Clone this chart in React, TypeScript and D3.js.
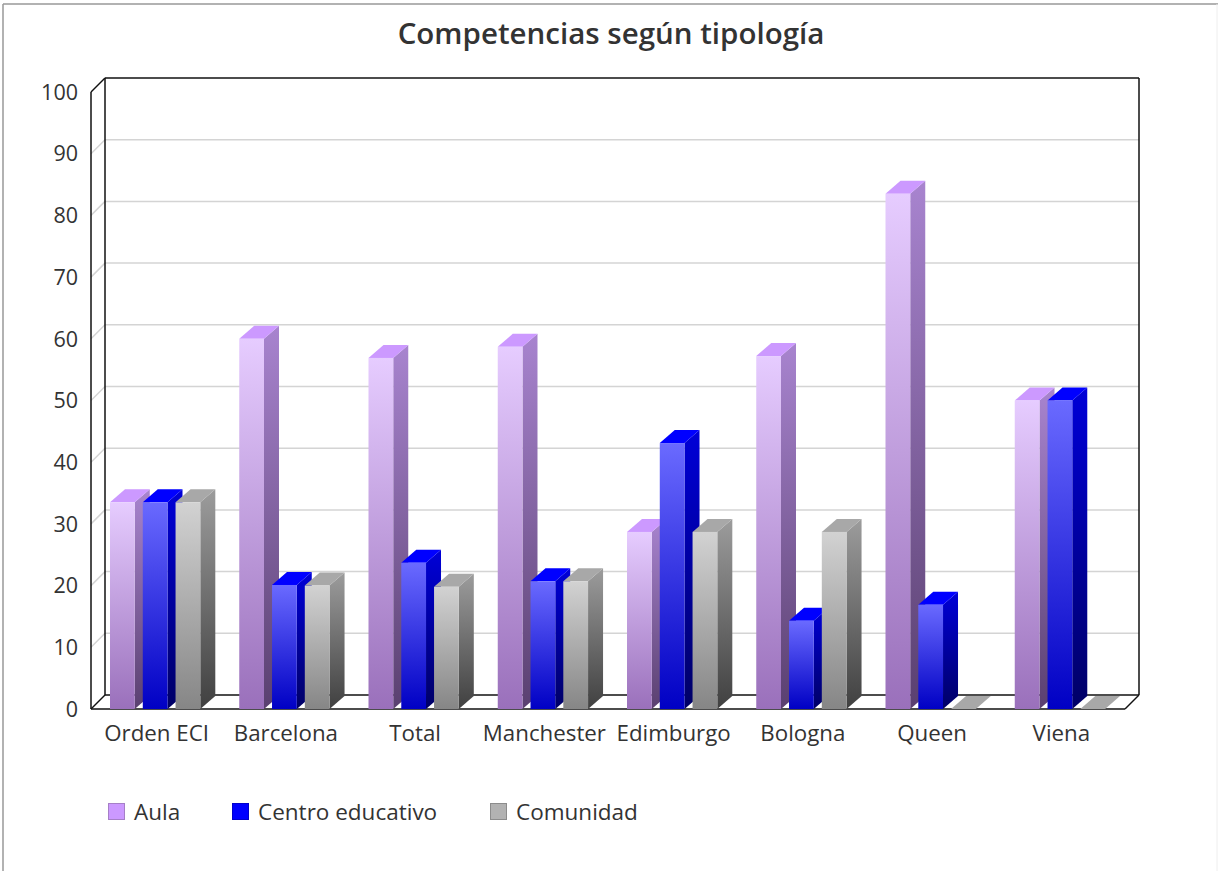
import * as d3 from "d3";
import React from "react";

const categories = ["Orden ECI", "Barcelona", "Total", "Manchester", "Edimburgo", "Bologna", "Queen", "Viena"];
const aula = [33.5, 60, 56.9, 58.7, 28.7, 57.2, 83.5, 50];
const centro = [33.5, 20.1, 23.7, 20.7, 43.1, 14.3, 16.9, 50];
const comunidad = [33.5, 20, 19.8, 20.7, 28.7, 28.7, 0, 0];
const yTicks = [0, 10, 20, 30, 40, 50, 60, 70, 80, 90, 100];
const seriesNames = ["Aula", "Centro educativo", "Comunidad"];
const seriesValues = [aula, centro, comunidad];

// colours per series: front top/bottom, side top/bottom, top face, legend fill/border
const palette = [
  { id: "a", f0: "#e6ccff", f1: "#9a70bb", s0: "#a884cf", s1: "#5a4070", t: "#cc99ff", l: "#cc99ff", b: "#a67fc7" },
  { id: "c", f0: "#6a6aff", f1: "#0000c4", s0: "#0000d8", s1: "#000066", t: "#0000ff", l: "#0000ff", b: "#0000cc" },
  { id: "g", f0: "#d2d2d2", f1: "#868686", s0: "#9c9c9c", s1: "#404040", t: "#a8a8a8", l: "#b2b2b2", b: "#8c8c8c" },
];

const width = 1218;
const height = 871;
const left = 91;
const right = 1125;
const top = 92;
const bottom = 709;
const dx = 14;
const dy = 14;
const barDx = 15;
const barDy = 13;

const fontFamily = "'Open Sans', sans-serif";
const textColor = "#333333";

export default function App() {
  const x0 = d3.scaleBand<string>().domain(categories).range([left, right]);
  const x1 = d3
    .scaleBand<number>()
    .domain([0, 1, 2])
    .range([19, 19 + 90.3])
    .paddingInner(0.245);
  const y = d3.scaleLinear().domain([0, 100]).range([bottom, top]);
  const bw = x1.bandwidth();

  return (
    <svg
      width={width}
      height={height}
      style={{ position: "absolute", left: 0, top: 0, background: "#fff" }}
    >
      <defs>
        {palette.map((p) => (
          <React.Fragment key={p.id}>
            <linearGradient id={p.id + "-front"} x1="0" y1="0" x2="0" y2="1">
              <stop offset="0" stopColor={p.f0} />
              <stop offset="1" stopColor={p.f1} />
            </linearGradient>
            <linearGradient id={p.id + "-side"} x1="0" y1="0" x2="0" y2="1">
              <stop offset="0" stopColor={p.s0} />
              <stop offset="1" stopColor={p.s1} />
            </linearGradient>
          </React.Fragment>
        ))}
      </defs>

      {/* outer frame */}
      <line x1={3} y1={4} x2={3} y2={height} stroke="#999" strokeWidth={1.5} />
      <line x1={3} y1={4} x2={width} y2={4} stroke="#999" strokeWidth={1.5} />
      <line x1={1217} y1={4} x2={1217} y2={height} stroke="#eee" />

      <text x={611} y={44} textAnchor="middle" fontFamily={fontFamily} fontSize={29.5} fontWeight={600} fill={textColor}>
        Competencias según tipología
      </text>

      {/* grid */}
      {yTicks.slice(1, -1).map((t) => (
        <g key={t} stroke="#d4d4d4" strokeWidth={1.5} fill="none">
          <line x1={left + dx} y1={y(t) - dy} x2={right + dx} y2={y(t) - dy} />
          <line x1={left} y1={y(t)} x2={left + dx} y2={y(t) - dy} />
        </g>
      ))}

      {/* walls */}
      <g stroke="#111" strokeWidth={1.5} fill="none">
        <line x1={left + dx} y1={top - dy} x2={right + dx} y2={top - dy} />
        <line x1={left + dx} y1={top - dy} x2={left + dx} y2={bottom - dy} />
        <line x1={right + dx} y1={top - dy} x2={right + dx} y2={bottom - dy} />
        <line x1={left + dx} y1={bottom - dy} x2={right + dx} y2={bottom - dy} />
        <line x1={left} y1={top} x2={left} y2={bottom} />
        <line x1={left} y1={top} x2={left + dx} y2={top - dy} />
        <line x1={left} y1={bottom} x2={right} y2={bottom} />
        <line x1={left} y1={bottom} x2={left + dx} y2={bottom - dy} />
        <line x1={right} y1={bottom} x2={right + dx} y2={bottom - dy} />
      </g>

      {/* bars */}
      {categories.map((c, i) => (
        <g key={c} transform={`translate(${x0(c)},0)`}>
          {seriesValues.map((vals, s) => {
            const p = palette[s];
            const bx = x1(s) as number;
            const by = y(vals[i]);
            const h = bottom - by;
            return (
              <g key={s}>
                {h > 0 && (
                  <path
                    d={`M${bx + bw},${by}L${bx + bw + barDx},${by - barDy}V${bottom - barDy}L${bx + bw},${bottom}Z`}
                    fill={`url(#${p.id}-side)`}
                  />
                )}
                <path
                  d={`M${bx},${by}L${bx + barDx},${by - barDy}H${bx + bw + barDx}L${bx + bw},${by}Z`}
                  fill={p.t}
                />
                {h > 0 && <rect x={bx} y={by} width={bw} height={h} fill={`url(#${p.id}-front)`} />}
              </g>
            );
          })}
        </g>
      ))}

      {/* y labels */}
      {yTicks.map((t) => (
        <text
          key={t}
          x={78}
          y={y(t)}
          dy="0.36em"
          textAnchor="end"
          fontFamily={fontFamily}
          fontSize={21.5}
          fill={textColor}
        >
          {t}
        </text>
      ))}

      {/* x labels */}
      {categories.map((c) => (
        <text
          key={c}
          x={(x0(c) as number) + x0.bandwidth() / 2 + 1}
          y={741}
          textAnchor="middle"
          fontFamily={fontFamily}
          fontSize={22.3}
          fill={textColor}
        >
          {c}
        </text>
      ))}

      {/* legend */}
      {seriesNames.map((name, s) => {
        const lx = [108, 232, 490][s];
        return (
          <g key={name}>
            <rect x={lx + 0.5} y={803.5} width={16} height={16} fill={palette[s].l} stroke={palette[s].b} />
            <text x={lx + 26} y={820} fontFamily={fontFamily} fontSize={22.5} fill={textColor}>
              {name}
            </text>
          </g>
        );
      })}
    </svg>
  );
}
